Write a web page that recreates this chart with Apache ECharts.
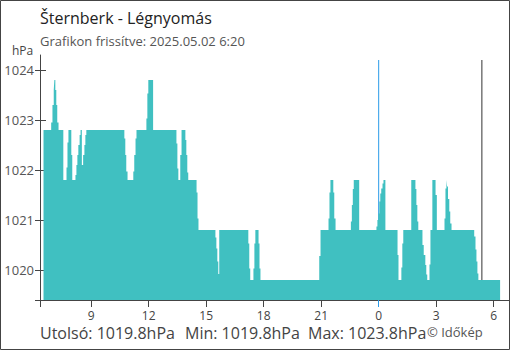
<!DOCTYPE html>
<html><head><meta charset="utf-8">
<script src="https://cdn.jsdelivr.net/npm/echarts@6/dist/echarts.min.js"></script>
<style>html,body{margin:0;padding:0;background:#fff}#c{width:510px;height:350px}</style>
</head><body><div id="c"></div>
<script>
// Readings 2025-05-01 06:31 .. 2025-05-02 06:20 (step values, hPa)
const times = ['06:31','06:55','06:59','07:03','07:05','07:08','07:11','07:14','07:18','07:33',
 '07:43','07:46','07:49','07:58','08:01','08:11','08:14','08:17','08:20','08:24',
 '08:27','08:31','08:35','08:39','08:42','08:45','10:44','10:47','10:50','10:54',
 '11:12','11:15','11:19','11:22','11:53','11:56','11:59','12:14','13:27','13:30',
 '13:33','13:39','13:43','13:55','13:58','14:01','14:04','14:30','14:33','14:36',
 '15:29','15:32','15:35','15:38','15:41','17:12','17:15','17:18','17:28','17:31',
 '17:34','17:44','17:47','17:50','20:54','20:58','21:23','21:26','21:29','21:38',
 '21:41','21:45','22:33','22:36','22:39','22:42','22:59','23:53','23:56','23:59',
 '00:02','00:05','00:08','00:12','00:15','00:21','00:59','01:02','01:11','01:14',
 '01:17','01:42','01:55','01:58','02:01','02:04','02:17','02:21','02:26','02:29',
 '02:32','02:39','02:42','02:48','02:58','03:02','03:26','03:29','03:32','03:34',
 '03:37','03:41','03:44','03:48','04:59','05:03','05:06','05:09','05:12','06:20'];
const values = [1022.8,1022.95,1023.3,1023.6,1023.8,1023.6,1023.3,1022.95,1022.8,1021.8,
 1022.05,1022.55,1022.8,1022.3,1021.8,1021.9,1022.1,1022.3,1022.5,1022.7,
 1022.8,1022.1,1022.3,1022.5,1022.7,1022.8,1022.63,1022.3,1021.97,1021.8,
 1021.97,1022.3,1022.63,1022.8,1023.03,1023.53,1023.8,1022.8,1022.53,1022.03,
 1021.8,1022.3,1022.8,1022.6,1022.3,1021.95,1021.8,1021.55,1021.03,1020.8,
 1020.65,1020.43,1020.17,1019.92,1020.8,1020.53,1020.03,1019.8,1020.03,1020.53,
 1020.8,1020.53,1020.03,1019.8,1020.28,1020.8,1021.03,1021.55,1021.8,1021.55,
 1021.03,1020.8,1020.97,1021.3,1021.62,1021.8,1020.8,1020.87,1021.0,1021.13,
 1021.37,1021.53,1021.63,1021.73,1021.8,1020.8,1020.3,1019.8,1020.05,1020.53,
 1020.8,1021.8,1021.62,1021.3,1020.97,1020.8,1020.5,1020.3,1020.1,1019.91,
 1019.8,1020.11,1020.8,1021.8,1021.5,1020.8,1021.03,1021.63,1021.8,1021.67,
 1021.42,1021.17,1020.93,1020.8,1020.67,1020.41,1020.17,1019.93,1019.8,1019.8];
const xTickLabels = ['9','12','15','18','21','0','3','6'];
const yTickValues = [1020,1021,1022,1023,1024];
const axisStart = '06:20', axisEnd = '06:51';
const yMin = 1019.4, yMax = 1024.3, markerTop = 1024.2;
const midnight = '00:00', sunrise = '05:23';

function hm(s){const p=s.split(':');return +p[0]+ +p[1]/60;}
function rollHours(list, first){let day=0,prev=first;return list.map(s=>{let h=hm(s);if(h+day<prev)day+=24;prev=h+day;return h+day;});}
const x0 = hm(axisStart);
const hours = rollHours(times, x0);
const xMax = hm(axisEnd)+24;
const tickHours = rollHours(xTickLabels.map(t=>t+':00'), x0);
const midH = rollHours([midnight], x0)[0];
const sunH = rollHours([sunrise], x0)[0];
const data = hours.map((h,i)=>[h, values[i]]);
const last = values[values.length-1], vmin = Math.min(...values), vmax = Math.max(...values);
const fmt = v => v.toFixed(1);

const FF = 'Open Sans';
const chart = echarts.init(document.getElementById('c'), null, {renderer:'svg'});
const ts = (size,color)=>({fontFamily:FF,fontSize:size,fontWeight:'normal',color:color,lineHeight:size});
chart.setOption({
  animation:false,
  backgroundColor:'#fff',
  title:[
    {text:'Šternberk - Légnyomás',left:40,top:10,padding:0,textStyle:ts(16,'#222')},
    {text:'Grafikon frissítve: 2025.05.02 6:20',left:40,top:34,padding:0,textStyle:ts(13,'#555')},
    {text:'hPa',left:12,top:44,padding:0,textStyle:ts(12,'#444')},
    {text:'Utolsó: '+fmt(last)+'hPa',left:40,top:325,padding:0,textStyle:ts(16,'#444')},
    {text:'Min: '+fmt(vmin)+'hPa',left:185,top:325,padding:0,textStyle:ts(16,'#444')},
    {text:'Max: '+fmt(vmax)+'hPa',left:308,top:325,padding:0,textStyle:ts(16,'#444')},
    {text:'© Időkép',left:427,top:325,padding:0,textStyle:ts(13,'#555')}
  ],
  graphic:[{type:'rect',shape:{x:0.5,y:0.5,width:509,height:349},style:{fill:'none',stroke:'#444',lineWidth:1},silent:true}],
  grid:{left:40,right:0,top:55,bottom:50,containLabel:false},
  xAxis:[
    {type:'value',min:x0,max:xMax,position:'bottom',
     axisLine:{show:true,lineStyle:{color:'#444',width:1}},
     axisTick:{show:true,length:7,lineStyle:{color:'#444'},customValues:[x0].concat(tickHours.filter(h=>h!==midH))},
     axisLabel:{show:true,customValues:tickHours,formatter:v=>String(Math.round(v)%24),margin:9,fontFamily:FF,fontSize:12,lineHeight:12,color:'#444'},
     splitLine:{show:false}},
    {type:'value',min:x0,max:xMax,position:'bottom',offset:0,
     axisLine:{show:false},
     axisTick:{show:true,length:7,lineStyle:{color:'#2b9be8'},customValues:[midH]},
     axisLabel:{show:false},splitLine:{show:false}}
  ],
  yAxis:[
    {type:'value',min:yMin,max:yMax,position:'left',
     axisLine:{show:true,lineStyle:{color:'#444',width:1}},
     axisTick:{show:true,length:5,lineStyle:{color:'#444'},customValues:[yMin].concat(yTickValues)},
     axisLabel:{show:true,customValues:yTickValues,formatter:v=>String(v),margin:6,fontFamily:FF,fontSize:13,color:'#555'},
     splitLine:{show:false}},
    {type:'value',min:yMin,max:yMax,position:'left',offset:0,
     axisLine:{show:false},
     axisTick:{show:true,inside:true,length:6,lineStyle:{color:'#444'},customValues:yTickValues},
     axisLabel:{show:false},splitLine:{show:false}}
  ],
  series:[
    {type:'line',name:'midnight',data:[[midH,yMin],[midH,markerTop]],symbol:'none',z:1,
     lineStyle:{color:'#2b9be8',width:1},silent:true},
    {type:'line',name:'sunrise',data:[[sunH,yMin],[sunH,markerTop]],symbol:'none',z:1,
     lineStyle:{color:'#333',width:1},silent:true},
    {type:'line',name:'Légnyomás',data:data,step:'end',symbol:'none',z:3,
     lineStyle:{width:0,opacity:0},
     areaStyle:{color:'#40c0c1',opacity:1,origin:'start'}}
  ]
});
</script></body></html>
